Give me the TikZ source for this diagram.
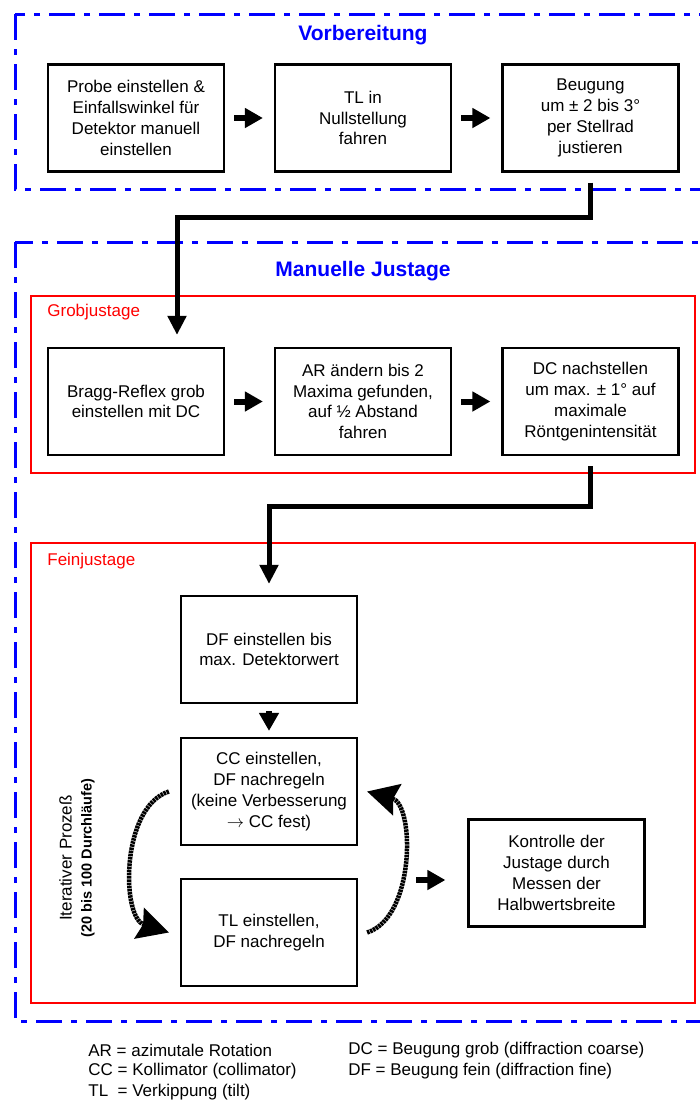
\documentclass[tikz,border=0pt]{standalone}
\usepackage{fontspec}
\setmainfont{Liberation Sans}
\usetikzlibrary{arrows.meta}

\definecolor{frameblue}{RGB}{0,0,255}
\definecolor{framered}{RGB}{255,0,0}

\tikzset{every picture/.style={line width=0.75pt},
  box/.style={draw, line width=2.2pt, minimum width=176pt, minimum height=107pt, inner sep=0pt, align=center, font=\fontsize{17}{20.8}\selectfont},
  blk/.style={line width=6pt, -{Triangle[length=18pt,width=19pt]}},
  conn/.style={line width=5pt, -{Triangle[length=19pt,width=18pt]}},
  cyc/.style={line width=4.5pt, dash pattern=on 2.5pt off 0.7pt, -{Stealth[length=31pt,width=32pt,inset=4pt]}},
  group/.style={draw=frameblue, line width=3pt, dash pattern=on 26pt off 9pt on 6pt off 9pt},
  stage/.style={draw=framered, line width=1.2pt},
  grouptitle/.style={text=frameblue, inner sep=0pt, font=\bfseries\fontsize{21}{25}\selectfont},
  stagelabel/.style={text=framered, anchor=west, inner sep=0pt, font=\fontsize{17}{20.8}\selectfont},
  legend/.style={anchor=west, inner sep=0pt, font=\fontsize{17}{20.8}\selectfont}
}

\begin{document}
\begin{tikzpicture}[x=1pt,y=1pt,yscale=-1,xscale=1]
\useasboundingbox (0,0) rectangle (700,1100);

%Shape: Group Vorbereitung
\draw[group] (15,14) rectangle (720,189);
% Text Node
\node[grouptitle] (tvor) at (363,35) {Vorbereitung};
%Boxes row 1
\node[box] (v1) at (136,118) {Probe einstellen \&\\Einfallswinkel für\\Detektor manuell\\einstellen};
\node[box] (v2) at (363,118) {TL in\\Nullstellung\\fahren};
\node[box] (v3) at (590.5,118) {Beugung\\um ± 2 bis 3°\\per Stellrad\\justieren};
%Arrows row 1
\draw[blk, shorten <=9pt, shorten >=11pt] (v1) -- (v2);
\draw[blk, shorten <=9pt, shorten >=11pt] (v2) -- (v3);

%Shape: Group Manuelle Justage
\draw[group] (15,242) rectangle (720,1021);
% Text Node
\node[grouptitle] (tman) at (363,271) {Manuelle Justage};

%Shape: Stage Grobjustage
\draw[stage] (31,296) rectangle (695,473);
% Text Node
\node[stagelabel] (lgrob) at (47,312) {Grobjustage};
%Boxes row 2
\node[box] (g1) at (136,401.5) {Bragg-Reflex grob\\einstellen mit DC};
\node[box] (g2) at (363,401.5) {AR ändern bis 2\\Maxima gefunden,\\auf ½ Abstand\\fahren};
\node[box] (g3) at (590.5,401.5) {DC nachstellen\\um max. ± 1° auf\\maximale\\Röntgenintensität};
%Arrows row 2
\draw[blk, shorten <=9pt, shorten >=11pt] (g1) -- (g2);
\draw[blk, shorten <=9pt, shorten >=11pt] (g2) -- (g3);

%Shape: Stage Feinjustage
\draw[stage] (31,543) rectangle (695,1003);
% Text Node
\node[stagelabel] (lfein) at (47,561) {Feinjustage};
\node[box] (df) at (269,649.5) {DF einstellen bis\\max. Detektorwert};
\node[box] (cc) at (269,791.5) {CC einstellen,\\DF nachregeln\\(keine Verbesserung\\$\rightarrow$ CC fest)};
\node[box] (tl) at (269,932.5) {TL einstellen,\\DF nachregeln};
\node[box] (kon) at (556.5,873) {Kontrolle der\\Justage durch\\Messen der\\Halbwertsbreite};
% Text Node
\node[rotate=90, align=center, inner sep=0pt, font=\fontsize{17}{20}\selectfont] (iter) at (77,858) {Iterativer Prozeß\\{\fontsize{14.5}{20}\selectfont\bfseries (20 bis 100 Durchläufe)}};

%Connectors between stages
\draw[conn, shorten <=10pt, shorten >=12pt] (v3.south) -- ++(0,45) -| ([xshift=41pt]g1.north);
\draw[conn, shorten <=10pt, shorten >=11pt] (g3.south) -- ++(0,50) -| (df.north);
\draw[blk, shorten <=7pt, shorten >=6pt] (df) -- (cc);

%Curve Lines: iteration loop
\draw[cyc] ([xshift=-11pt]cc.west) .. controls +(-48,15) and +(-48,-15) .. ([xshift=-11pt]tl.west);
\draw[cyc] ([xshift=9pt]tl.east) .. controls +(48,-15) and +(48,13) .. ([xshift=9pt]cc.east);
\coordinate (kin) at (416,880);
\draw[blk, shorten >=22pt] (kin) -- (kin -| kon.west);

% Legend
\node[legend] (l1) at (88,1050) {AR = azimutale Rotation};
\node[legend] (l2) at (88,1071) {CC = Kollimator (collimator)};
\node[legend] (l3) at (88,1092) {TL\ \ = Verkippung (tilt)};
\node[legend] (l4) at (348,1050) {DC = Beugung grob (diffraction coarse)};
\node[legend] (l5) at (348,1071) {DF = Beugung fein (diffraction fine)};

\end{tikzpicture}
\end{document}
